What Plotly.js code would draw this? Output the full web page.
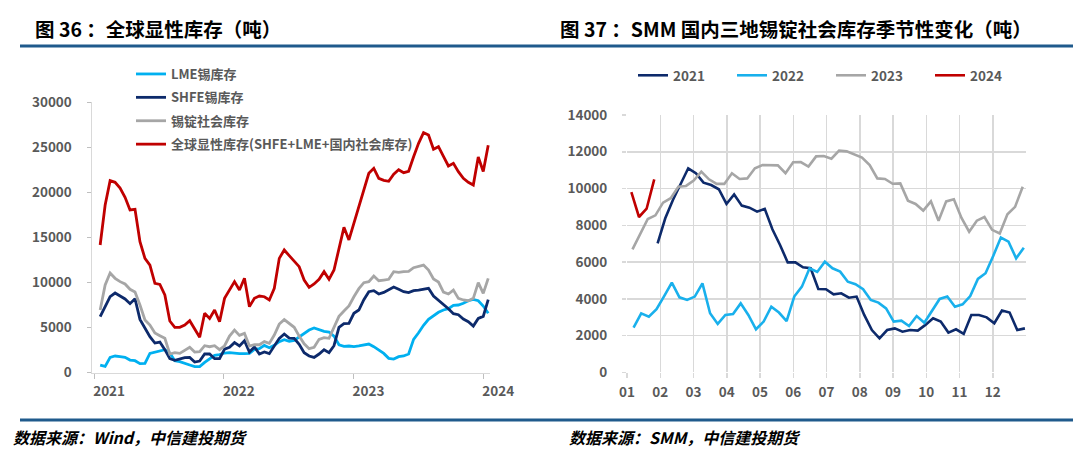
<!DOCTYPE html>
<html>
<head>
<meta charset="utf-8">
<script src="https://cdn.plot.ly/plotly-3.0.1.min.js"></script>
<style>
html,body{margin:0;padding:0;background:#fff;}
#chart{width:1080px;height:461px;}
</style>
</head>
<body>
<div id="chart"></div>
<script>
// ---------- Left chart: global visible tin stocks (tonnes), biweekly samples ----------
const leftStartDate = "2021-01-18";
const leftStepDays = 14;
const leftSeriesNames = ["LME锡库存", "SHFE锡库存", "锡锭社会库存", "全球显性库存(SHFE+LME+国内社会库存)"];
const lmeStock = [
  850, 700, 1700, 1850, 1770, 1700, 1400, 1330, 1000, 1030,
  2140, 2290, 2480, 2550, 2180, 1330, 1220, 1070, 850, 670,
  670, 1150, 1550, 1920, 2000, 2180, 2220, 2140, 2110, 2110,
  2140, 2590, 2660, 3030, 2770, 3030, 3440, 3660, 3470, 3580,
  3990, 4400, 4730, 4950, 4770, 4580, 4510, 4060, 3100, 2920,
  2960, 2880, 2960, 3070, 3180, 2880, 2510, 2140, 1590, 1510,
  1770, 1850, 2070, 3700, 4430, 5250, 5910, 6280, 6690, 6950,
  7090, 7460, 7500, 7690, 7980, 8130, 7980, 7390, 6580
];
const shfeStock = [
  6210, 7350, 8420, 8830, 8460, 8170, 7650, 8200, 5910, 4950,
  3990, 3290, 3400, 2550, 1550, 1370, 1510, 1660, 1700, 1180,
  1290, 2070, 2070, 1550, 1550, 2620, 2810, 3330, 2960, 3550,
  2290, 2850, 2070, 2290, 2110, 2960, 3810, 4290, 3840, 3810,
  3140, 2220, 1850, 1700, 2070, 2550, 2220, 2990, 5030, 5430,
  5470, 6580, 6950, 8090, 8980, 9090, 8720, 8900, 9160, 9500,
  9240, 8980, 8870, 9090, 9160, 9240, 9350, 8500, 8060, 7610,
  7090, 6540, 6430, 5950, 5650, 5170, 6020, 6240, 8100
];
const socialStock = [
  6950, 9720, 11050, 10460, 10090, 9830, 9240, 8940, 7500, 5840,
  5280, 4400, 4100, 3810, 2070, 2220, 2140, 2440, 2810, 2290,
  2330, 2990, 2880, 2990, 2550, 2990, 4060, 4730, 4140, 4360,
  2960, 3100, 3100, 3440, 3250, 4180, 5390, 5880, 5430, 5030,
  4060, 3210, 2660, 2810, 3700, 3880, 3810, 4950, 6240, 6840,
  7390, 8420, 9310, 9980, 10090, 10720, 10200, 10270, 10350, 11200,
  11120, 11200, 11230, 11640, 11790, 11930, 11380, 10380, 10050, 8940,
  8720, 9160, 8240, 8060, 7980, 8240, 9980, 8790, 10460
];
const globalStock = [
  14150, 18590, 21280, 21100, 20470, 19440, 18030, 18100, 14520, 12670,
  11930, 9900, 9790, 8610, 5730, 5030, 5030, 5280, 5760, 4880,
  3920, 6580, 6020, 6950, 5650, 8240, 9160, 10090, 9160, 10460,
  7320, 8240, 8500, 8420, 8060, 9350, 12670, 13600, 12970, 12300,
  11750, 10270, 9460, 9830, 10350, 11200, 10350, 11380, 13600, 16110,
  14710, 16550, 18590, 20430, 22100, 22650, 21540, 21320, 21210, 21990,
  22500, 22170, 22320, 23940, 25420, 26600, 26350, 24760, 25050, 23980,
  22910, 23200, 22280, 21540, 21100, 20800, 23900, 22300, 25200
];
const leftYearTicks = ["2021-01-01", "2022-01-01", "2023-01-01", "2024-01-01"];
const leftYearLabels = ["2021", "2022", "2023", "2024"];

// ---------- Right chart: SMM weekly social stocks by year (tonnes) ----------
const seasonYears = ["2021", "2022", "2023", "2024"];
const seasonFirstFriday = ["2021-01-29", "2022-01-07", "2023-01-06", "2024-01-05"];
const stock2021 = [
  7020, 8380, 9380, 10280, 11100, 10830, 10320, 10190, 9960, 9160,
  9680, 9070, 8960, 8740, 8890, 7780, 6930, 5980, 5980, 5710,
  5660, 4530, 4520, 4240, 4300, 4060, 4120, 3120, 2300, 1850,
  2300, 2390, 2210, 2300, 2270, 2580, 2940, 2760, 2160, 2340,
  2090, 3120, 3120, 2990, 2670, 3360, 3250, 2300, 2390
];
const stock2022 = [
  2430, 3210, 3030, 3430, 4150, 4880, 4080, 3940, 4120, 4840,
  3210, 2630, 3120, 3170, 3750, 3120, 2340, 2760, 3570, 3250,
  2790, 4120, 4660, 5660, 5460, 6020, 5660, 5480, 4930, 4790,
  4520, 3940, 3790, 3480, 2760, 2810, 2520, 3060, 2700, 3360,
  3990, 4120, 3570, 3700, 4150, 5080, 5390, 6330, 7330, 7110,
  6200, 6780
];
const stock2023 = [
  6690, 7560, 8340, 8540, 9230, 9470, 10100, 10140, 10430, 10920,
  10500, 10250, 10250, 10830, 10520, 10550, 11100, 11280, 11280, 11260,
  10830, 11430, 11440, 11190, 11750, 11770, 11620, 12060, 12020, 11860,
  11680, 11280, 10550, 10520, 10260, 10280, 9340, 9160, 8800, 9300,
  8250, 9300, 9410, 8400, 7650, 8250, 8450, 7750, 7550, 8600,
  9000, 10100
];
const stock2024 = [9800, 8450, 8900, 10500];
const monthTickLabels = ["01","02","03","04","05","06","07","08","09","10","11","12"];

// ---------- helpers ----------
const DAY = 86400000;
function stepDates(start, n, step) {
  const t0 = Date.parse(start + "T00:00:00Z");
  const out = [];
  for (let i = 0; i < n; i++) out.push(new Date(t0 + i * step * DAY).toISOString().slice(0, 10));
  return out;
}
function monthPosition(dateStr) {
  const t = Date.parse(dateStr + "T00:00:00Z");
  const y = new Date(t).getUTCFullYear();
  const jan1 = Date.UTC(y, 0, 1);
  const daysInYear = (Date.UTC(y + 1, 0, 1) - jan1) / DAY;
  return 1 + 12 * ((t - jan1) / DAY) / daysInYear;
}

const CJK = '"Noto Sans CJK SC", "Liberation Sans", sans-serif';
const tickFont = {family: CJK, size: 13.5, color: "#595959", weight: "bold"};

const leftDates = stepDates(leftStartDate, globalStock.length, leftStepDays);
const leftColors = ["#00B0F0", "#0D2A6B", "#A6A6A6", "#C00000"];
const leftValues = [lmeStock, shfeStock, socialStock, globalStock];

const traces = [];
leftValues.forEach((vals, i) => {
  traces.push({
    type: "scatter", mode: "lines", x: leftDates, y: vals, name: leftSeriesNames[i],
    xaxis: "x", yaxis: "y", legend: "legend", legendgroup: "L" + i,
    line: {color: leftColors[i], width: 2.8}, hoverinfo: "skip"
  });
});

const seasonValues = [stock2021, stock2022, stock2023, stock2024];
const seasonColors = ["#0D2A6B", "#19B0EC", "#A6A6A6", "#C00000"];
seasonValues.forEach((vals, i) => {
  const dts = stepDates(seasonFirstFriday[i], vals.length, 7);
  traces.push({
    type: "scatter", mode: "lines", x: dts.map(monthPosition), y: vals, name: seasonYears[i],
    xaxis: "x2", yaxis: "y2", legend: "legend2",
    line: {color: seasonColors[i], width: 2.6}, hoverinfo: "skip"
  });
});

const H = 461, W = 1080;
const py = px => (H - px) / H;
const pxx = px => px / W;

const layout = {
  width: W, height: H,
  margin: {l: 0, r: 0, t: 0, b: 0, autoexpand: false},
  paper_bgcolor: "#ffffff", plot_bgcolor: "#ffffff",
  showlegend: true,
  xaxis: {
    type: "date", domain: [pxx(92), pxx(490)], range: ["2020-12-26", "2024-01-20"],
    anchor: "y", tickmode: "array", tickvals: leftYearTicks, ticktext: leftYearLabels,
    ticks: "outside", ticklen: 5, tickcolor: "#BFBFBF", tickwidth: 1,
    showline: true, linecolor: "#D9D9D9", linewidth: 1.5,
    showgrid: false, zeroline: false, ticklabelshift: 15, ticklabelstandoff: 1,
    tickfont: tickFont, fixedrange: true, automargin: false
  },
  yaxis: {
    domain: [py(372.7), py(102)], range: [0, 30000], anchor: "x",
    tickmode: "array", tickvals: [0, 5000, 10000, 15000, 20000, 25000, 30000], tickformat: "d",
    ticks: "outside", ticklen: 4, tickcolor: "#BFBFBF",
    showline: true, linecolor: "#D9D9D9", linewidth: 1.5,
    showgrid: false, zeroline: false, ticklabelstandoff: 12,
    tickfont: tickFont, fixedrange: true, automargin: false
  },
  xaxis2: {
    domain: [pxx(627), pxx(1026)], range: [1, 13], anchor: "y2",
    tickmode: "array", tickvals: [1,2,3,4,5,6,7,8,9,10,11,12], ticktext: monthTickLabels,
    ticks: "outside", ticklen: 5, tickcolor: "#D9D9D9", tickwidth: 1.5,
    showgrid: true, gridcolor: "#D9D9D9", gridwidth: 1.5,
    showline: false, zeroline: false, ticklabelstandoff: 2,
    tickfont: tickFont, fixedrange: true, automargin: false
  },
  yaxis2: {
    domain: [py(372.3), py(115)], range: [0, 14000], anchor: "x2",
    tickmode: "array", tickvals: [0,2000,4000,6000,8000,10000,12000,14000], tickformat: "d",
    ticks: "outside", ticklen: 4, tickcolor: "#D9D9D9", tickwidth: 1.5,
    showgrid: true, gridcolor: "#D9D9D9", gridwidth: 1.5,
    showline: false, zeroline: false, ticklabelstandoff: 12,
    tickfont: tickFont, fixedrange: true, automargin: false
  },
  legend: {
    x: pxx(131), y: py(59), xanchor: "left", yanchor: "top",
    orientation: "v", bgcolor: "rgba(0,0,0,0)", borderwidth: 0,
    tracegroupgap: 3.5, traceorder: "grouped",
    font: {family: CJK, size: 13, color: "#595959", weight: "bold"}
  },
  legend2: {
    x: pxx(633), y: py(60), xanchor: "left", yanchor: "top",
    orientation: "h", bgcolor: "rgba(0,0,0,0)", borderwidth: 0,
    entrywidth: 54, entrywidthmode: "pixels", traceorder: "normal",
    font: {family: CJK, size: 13.5, color: "#595959", weight: "bold"}
  },
  shapes: [
    {type: "line", xref: "paper", yref: "paper", x0: pxx(20), x1: pxx(1073), y0: py(46), y1: py(46),
     line: {color: "#1F5A8C", width: 3}},
    {type: "line", xref: "paper", yref: "paper", x0: pxx(20), x1: pxx(1073), y0: py(420), y1: py(420),
     line: {color: "#1F5A8C", width: 3}}
  ],
  annotations: [
    {xref: "paper", yref: "paper", x: pxx(33), y: py(29), xanchor: "left", yanchor: "middle",
     text: "图 36 ：全球显性库存（吨）", showarrow: false,
     font: {family: CJK, size: 19.5, color: "#000000", weight: "bold"}},
    {xref: "paper", yref: "paper", x: pxx(558), y: py(29), xanchor: "left", yanchor: "middle",
     text: "图 37 ：SMM 国内三地锡锭社会库存季节性变化（吨）", showarrow: false,
     font: {family: CJK, size: 19.5, color: "#000000", weight: "bold"}},
    {xref: "paper", yref: "paper", x: pxx(11), y: py(437), xanchor: "left", yanchor: "middle",
     text: "数据来源：Wind，中信建投期货", showarrow: false,
     font: {family: CJK, size: 16, color: "#000000", weight: "bold", style: "italic"}},
    {xref: "paper", yref: "paper", x: pxx(567), y: py(437), xanchor: "left", yanchor: "middle",
     text: "数据来源：SMM，中信建投期货", showarrow: false,
     font: {family: CJK, size: 16, color: "#000000", weight: "bold", style: "italic"}}
  ]
};

Plotly.newPlot("chart", traces, layout, {staticPlot: true, displayModeBar: false});
</script>
</body>
</html>
